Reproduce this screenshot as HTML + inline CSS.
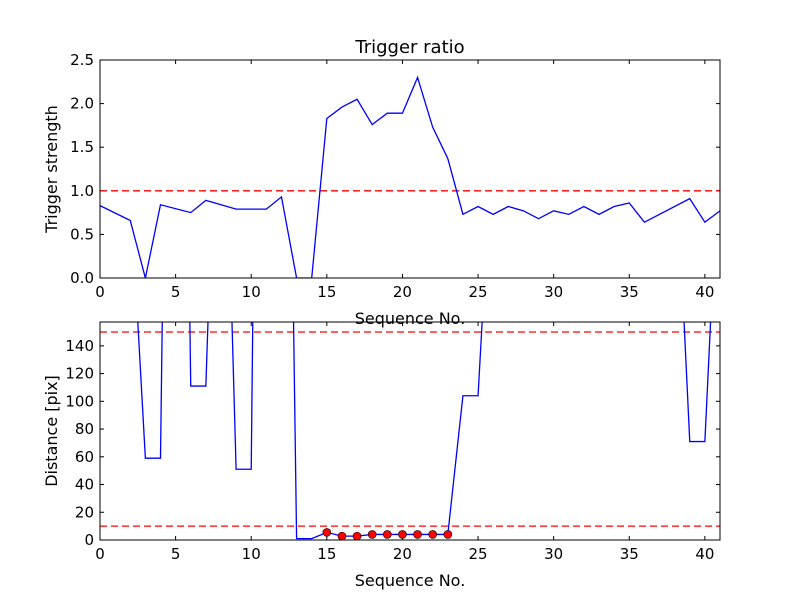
<!DOCTYPE html>
<html><head><meta charset="utf-8"><style>
html,body{margin:0;padding:0;background:#fff}
svg text{font-family:"DejaVu Sans","Liberation Sans",sans-serif;fill:#000}
</style></head><body>
<svg id="fig" width="800" height="600" viewBox="0 0 800 600" xmlns="http://www.w3.org/2000/svg">
<rect width="800" height="600" fill="#fff"/>
<defs>
<clipPath id="c1"><rect x="100" y="60" width="620" height="218"/></clipPath>
<clipPath id="c2"><rect x="100" y="322" width="620" height="218"/></clipPath>
</defs>
<g id="g1"></g>
<g id="g2"></g>
</svg>
<script>
const topX = [0,2,3,4,6,7,9,11,12,13,14,15,16,17,18,19,20,21,22,23,24,25,26,27,28,29,30,31,32,33,34,35,36,39,40,41];
const topY = [0.83,0.66,0,0.84,0.75,0.89,0.79,0.79,0.93,0,0,1.83,1.96,2.05,1.76,1.89,1.89,2.30,1.73,1.37,0.73,0.82,0.73,0.82,0.77,0.68,0.77,0.73,0.82,0.73,0.82,0.86,0.64,0.91,0.64,0.77];
const topThreshold = [1.0];
const botX = [0,1,2,3,4,5,6,7,8,9,10,11,12,13,14,15,16,17,18,19,20,21,22,23,24,25,26,27,28,29,30,31,32,33,34,35,36,37,38,39,40,41];
const botY = [300,300,255,59,59,900,111,111,440,51,51,1100,780,1,1,5.5,2.8,2.8,4,4,4,4,4,4,104,104,300,300,300,300,300,300,300,300,300,300,300,300,300,71,71,300];
const markX = [15,16,17,18,19,20,21,22,23];
const markY = [5.5,2.8,2.8,4,4,4,4,4,4];
const botThresholds = [10,150];
const xTicks = [0,5,10,15,20,25,30,35,40];
const topYTicks = [0,0.5,1.0,1.5,2.0,2.5];
const botYTicks = [0,20,40,60,80,100,120,140];

const NS="http://www.w3.org/2000/svg";
function mk(tag, attrs, parent){const e=document.createElementNS(NS,tag);for(const k in attrs)e.setAttribute(k,attrs[k]);parent.appendChild(e);return e;}
const L=100,R=720;
const sx=v=>L+(v/41)*(R-L);

function axes(g, top, bot, ymax, yTicks, fmt, ylabel, xlabelName, ylabelName){
  const sy=v=>bot-(v/ymax)*(bot-top);
  xTicks.forEach(t=>{
    const x=sx(t);
    const a=mk('line',{x1:x,x2:x,y1:bot,y2:bot-4,stroke:'#000'},g);
    
    
    const b=mk('line',{x1:x,x2:x,y1:top,y2:top+4,stroke:'#000'},g);
    
    
    const tx=mk('text',{x:x,y:bot+19,'font-size':'15','text-anchor':'middle'},g);
    tx.textContent=t;
    
    
  });
  yTicks.forEach(t=>{
    const y=sy(t);
    const a=mk('line',{x1:L,x2:L+4,y1:y,y2:y,stroke:'#000'},g);
    
    
    const b=mk('line',{x1:R,x2:R-4,y1:y,y2:y,stroke:'#000'},g);
    
    
    const tx=mk('text',{x:L-6,y:y+5,'font-size':'15','text-anchor':'end'},g);
    tx.textContent=fmt(t);
    
    
  });
  const xl=mk('text',{x:410,y:bot+46,'font-size':'16','text-anchor':'middle'},g);
  xl.textContent='Sequence No.';
  
  
  const cy=(top+bot)/2;
  const yl=mk('text',{x:0,y:0,'font-size':'16','text-anchor':'middle',transform:`translate(57,${cy}) rotate(-90)`},g);
  yl.textContent=ylabel;
  
  
  return sy;
}

const g1=document.getElementById('g1');
const sy1=axes(g1,60,278,2.5,topYTicks,v=>v.toFixed(1),'Trigger strength','x-axis-title-top','y-axis-title-top');
topThreshold.forEach(v=>{
  const l=mk('line',{x1:L,x2:R,y1:sy1(v),y2:sy1(v),stroke:'#f00','stroke-width':'1.3','stroke-dasharray':'7,4'},g1);
  
  
});
const p1=mk('polyline',{points:topX.map((x,i)=>sx(x)+','+sy1(topY[i])).join(' '),fill:'none',stroke:'#00f','stroke-width':'1.3','clip-path':'url(#c1)'},g1);


const f1=mk('rect',{x:L,y:60,width:R-L,height:218,fill:'none',stroke:'#000'},g1);


const t1=mk('text',{x:410,y:53,'font-size':'18','text-anchor':'middle'},g1);
t1.textContent='Trigger ratio';



const g2=document.getElementById('g2');
const sy2=axes(g2,322,540,157.2,botYTicks,v=>String(v),'Distance [pix]','x-axis-title-bottom','y-axis-title-bottom');
botThresholds.forEach(v=>{
  const l=mk('line',{x1:L,x2:R,y1:sy2(v),y2:sy2(v),stroke:'#f00','stroke-width':'1.3','stroke-dasharray':'7,4'},g2);
  
  
});
const p2=mk('polyline',{points:botX.map((x,i)=>sx(x)+','+sy2(botY[i])).join(' '),fill:'none',stroke:'#00f','stroke-width':'1.3','clip-path':'url(#c2)'},g2);


markX.forEach((x,i)=>{
  const c=mk('circle',{cx:sx(x),cy:sy2(markY[i]),r:'4',fill:'#f00',stroke:'#000','stroke-width':'0.6'},g2);
  
  
});
const f2=mk('rect',{x:L,y:322,width:R-L,height:218,fill:'none',stroke:'#000'},g2);


</script>
</body></html>
